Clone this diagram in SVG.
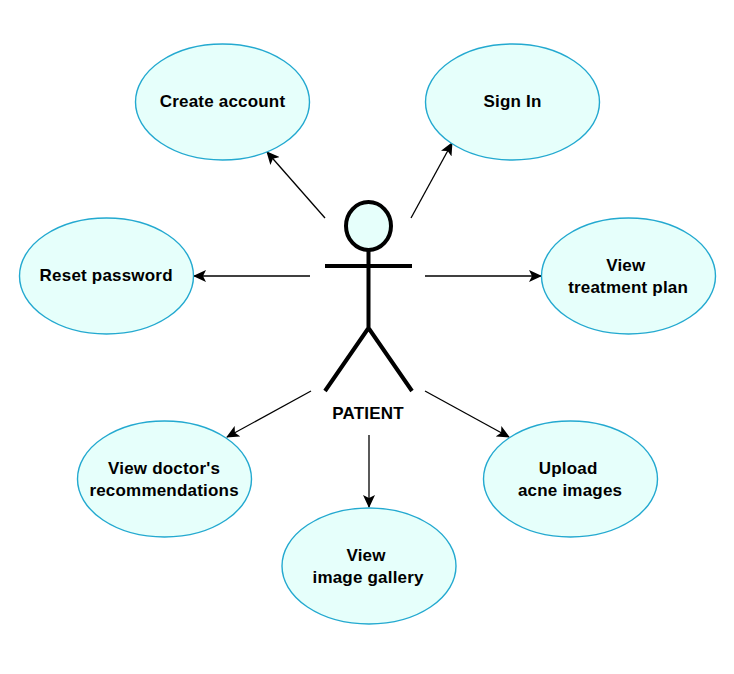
<svg xmlns="http://www.w3.org/2000/svg" width="734" height="674" viewBox="0 0 734 674">
<style>
.n{fill:#e6fffb;stroke:#23a9d0;stroke-width:1.4}
.t{font-family:"Liberation Sans",Arial,sans-serif;font-size:17px;font-weight:bold;fill:#000;text-anchor:middle;letter-spacing:.2px}
.c{stroke:#000;stroke-width:1.3;fill:none;marker-end:url(#a)}
.s{stroke:#000;stroke-width:4;fill:none}
</style>
<defs><marker id="a" markerUnits="userSpaceOnUse" markerWidth="14" markerHeight="12" refX="12" refY="6" orient="auto"><path d="M0 0L13 6L0 12L3 6Z" fill="#000"/></marker></defs>
<rect width="734" height="674" fill="#fff"/>
<g id="connectors">
<path class="c" d="M325 218L267 152"/>
<path class="c" d="M411 218L452 143"/>
<path class="c" d="M310 276H194"/>
<path class="c" d="M425 276H541"/>
<path class="c" d="M311 391L227 437"/>
<path class="c" d="M425 391L509 437"/>
<path class="c" d="M369 435V507"/>
</g>
<g id="create-account"><ellipse class="n" cx="222.500" cy="102" rx="87" ry="58"/><text class="t" x="222.500" y="107">Create account</text></g>
<g id="sign-in"><ellipse class="n" cx="512.500" cy="102" rx="87" ry="58"/><text class="t" x="512.500" y="107">Sign In</text></g>
<g id="reset-password"><ellipse class="n" cx="106.500" cy="276" rx="87" ry="58"/><text class="t" x="106.200" y="281">Reset password</text></g>
<g id="view-treatment-plan"><ellipse class="n" cx="628.500" cy="276" rx="87" ry="58"/><text class="t" x="625.800" y="271">View</text><text class="t" x="628.100" y="293">treatment plan</text></g>
<g id="view-recommendations"><ellipse class="n" cx="164.500" cy="479" rx="87" ry="58"/><text class="t" x="164.100" y="474">View doctor's</text><text class="t" x="164.100" y="496">recommendations</text></g>
<g id="upload-acne-images"><ellipse class="n" cx="570.500" cy="479" rx="87" ry="58"/><text class="t" x="568.100" y="474">Upload</text><text class="t" x="570.100" y="496">acne images</text></g>
<g id="view-image-gallery"><ellipse class="n" cx="369" cy="566" rx="87" ry="58"/><text class="t" x="366.100" y="561">View</text><text class="t" x="368.100" y="583">image gallery</text></g>
<g id="patient">
<ellipse cx="368.500" cy="226" rx="22.500" ry="24" fill="#e6fffb" stroke="#000" stroke-width="4"/>
<path class="s" d="M368.500 250V328M325 266H412M368.500 328L325 391M368.500 328L412 391"/>
<text class="t" x="368.100" y="419">PATIENT</text>
</g>
</svg>
